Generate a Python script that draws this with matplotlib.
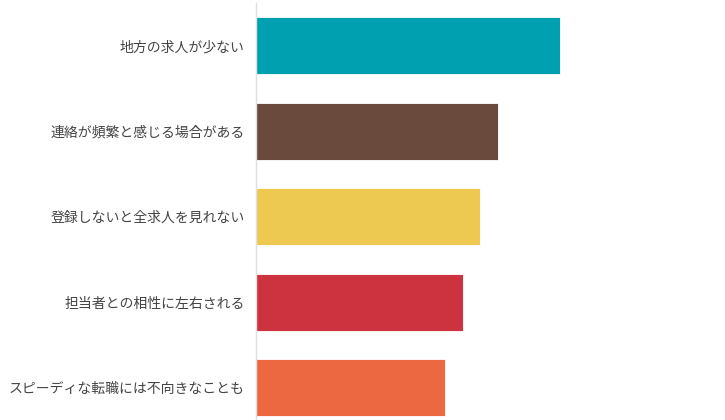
import matplotlib
matplotlib.use("Agg")
import matplotlib.pyplot as plt

plt.rcParams['font.family'] = ['Noto Sans CJK JP', 'DejaVu Sans']

categories = ["地方の求人が少ない", "連絡が頻繁と感じる場合がある", "登録しないと全求人を見れない",
              "担当者との相性に左右される", "スピーディな転職には不向きなことも"]
values = [35.3, 28.1, 26.0, 24.0, 22.0]
colors = ["#00A0B0", "#6A4A3C", "#EDC951", "#CC333F", "#EB6841"]

W, H = 725, 420
fig = plt.figure(figsize=(W/100, H/100), dpi=100)
left, right, top, bottom = 256, 725, 3, 420
ax = fig.add_axes([left/W, 1 - bottom/H, (right-left)/W, (bottom-top)/H])

ypos = list(range(len(categories)))
ax.barh(ypos, values, height=0.672, color=colors, edgecolor='white', linewidth=0.6)
ax.set_xlim(0, 54.5)
ax.set_ylim(4.377, -0.5)
ax.set_yticks(ypos)
ax.set_yticklabels(categories, fontsize=10, color='#444444')
ax.tick_params(axis='y', length=0, pad=8)
ax.set_xticks([])
for s in ['top', 'right', 'bottom']:
    ax.spines[s].set_visible(False)
ax.spines['left'].set_color('#e0e0e0')
ax.spines['left'].set_linewidth(1)
ax.set_axisbelow(True)

fig.savefig("out.png", dpi=100)
